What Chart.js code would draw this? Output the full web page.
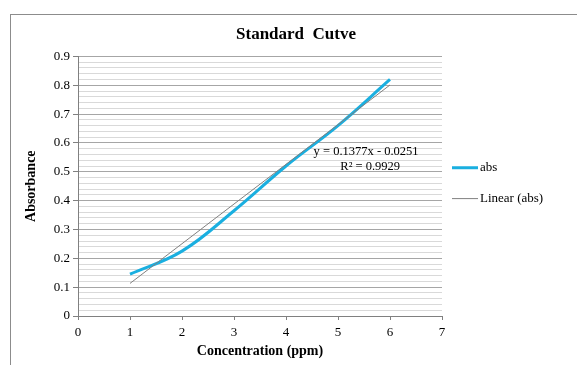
<!DOCTYPE html>
<html>
<head>
<meta charset="utf-8">
<script src="https://cdn.jsdelivr.net/npm/chart.js@4/dist/chart.umd.min.js"></script>
<style>
body { margin: 0; background: #fff; }
#box { position: absolute; left: 10px; top: 14px; width: 566px; height: 350px; border-top: 1px solid #8c8c8c; border-left: 1px solid #8c8c8c; }
</style>
</head>
<body>
<div id="box"><canvas id="standard_curve"></canvas></div>
<script>
const concentrations = [1, 2, 3, 4, 5, 6];
const absorbance = [0.145, 0.225, 0.365, 0.52, 0.66, 0.82];
const trendX = [1, 6];
const trendY = [0.113, 0.801];
const chartTitle = 'Standard  Cutve';
const equationLines = ['y = 0.1377x - 0.0251', 'R² = 0.9929'];
const legendLabels = ['abs', 'Linear (abs)'];

const serif = "'Liberation Serif', 'Times New Roman', serif";
const cyan = '#1aafe0';
const grey = '#808080';

// title centred on the whole box, trendline label + legend drawn by hand
const extras = {
    id: 'extras',
    afterDraw(chart) {
        const c = chart.ctx;
        const xs = chart.scales.x, ys = chart.scales.y;
        c.save();
        c.fillStyle = '#000';
        c.textAlign = 'center';
        c.textBaseline = 'middle';
        c.font = 'bold 17px ' + serif;
        c.fillText(chartTitle, chart.width / 2 + 2, 20);

        c.font = '12.5px ' + serif;
        c.fillText(equationLines[0], xs.getPixelForValue(5.54), ys.getPixelForValue(0.568));
        c.fillText(equationLines[1], xs.getPixelForValue(5.62), ys.getPixelForValue(0.516));

        c.font = '13px ' + serif;
        const r = chart.chartArea.right;
        const rows = [ys.getPixelForValue(0.514), ys.getPixelForValue(0.407)];
        const colors = [cyan, grey];
        const widths = [3, 1];
        c.textAlign = 'left';
        rows.forEach((y, i) => {
            c.strokeStyle = colors[i];
            c.lineWidth = widths[i];
            c.beginPath();
            c.moveTo(r + 10, y);
            c.lineTo(r + 36, y);
            c.stroke();
            c.fillText(legendLabels[i], r + 38, y);
        });
        c.restore();
    }
};

const ctx = document.getElementById('standard_curve').getContext('2d');

chart_curve = new Chart(ctx, {
    type: 'scatter',
    data: {
        datasets: [{
            label: legendLabels[1],
            data: trendX.map((x, i) => ({ x: x, y: trendY[i] })),
            showLine: true,
            borderColor: grey,
            borderWidth: 1,
            pointRadius: 0
        }, {
            label: legendLabels[0],
            data: concentrations.map((x, i) => ({ x: x, y: absorbance[i] })),
            showLine: true,
            borderColor: cyan,
            borderWidth: 3,
            tension: 0.4,
            pointRadius: 0
        }]
    },
    options: {
        responsive: true,
        maintainAspectRatio: false,
        animation: false,
        layout: { padding: { left: 0, right: 135, top: 0, bottom: 0 } },
        plugins: {
            legend: { display: false },
            tooltip: { enabled: false },
            title: {
                display: true,
                text: ' ',
                color: 'transparent',
                font: { family: serif, size: 17, weight: 'bold' },
                padding: { top: 8, bottom: 13 }
            }
        },
        scales: {
            x: {
                type: 'linear',
                min: 0,
                max: 7,
                afterFit: s => { s.height = 49; },
                ticks: { stepSize: 1, color: '#000', font: { family: serif, size: 13 }, padding: 5 },
                grid: { drawOnChartArea: false, tickLength: 4, tickColor: grey },
                border: { color: grey },
                title: {
                    display: true,
                    text: 'Concentration (ppm)',
                    color: '#000',
                    font: { family: serif, size: 14, weight: 'bold' },
                    padding: { top: 0, bottom: 5 }
                }
            },
            y: {
                min: 0,
                max: 0.9,
                afterFit: s => { s.width = 67; },
                ticks: {
                    stepSize: 0.02,
                    autoSkip: false,
                    color: '#000',
                    font: { family: serif, size: 13 },
                    padding: 3,
                    callback: v => Math.round(v * 100) % 10 === 0 ? (Math.round(v * 10) / 10).toString() : ''
                },
                grid: {
                    tickLength: 5,
                    color: c => Math.round(c.tick.value * 100) % 10 === 0 ? '#a6a6a6' : '#d9d9d9',
                    tickColor: c => Math.round(c.tick.value * 100) % 10 === 0 ? grey : 'transparent'
                },
                border: { color: grey },
                title: {
                    display: true,
                    text: 'Absorbance',
                    color: '#000',
                    font: { family: serif, size: 14, weight: 'bold' },
                    padding: { top: 12, bottom: 0 }
                }
            }
        }
    },
    plugins: [extras]
});
</script>
</body>
</html>
